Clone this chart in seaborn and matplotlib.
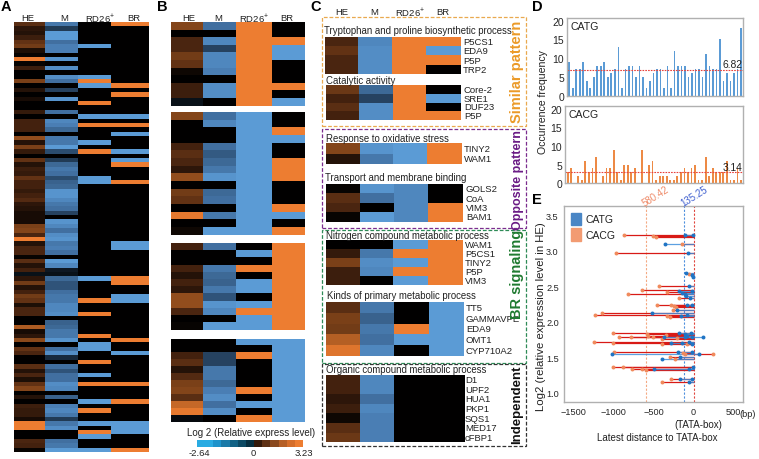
import numpy as np
import pandas as pd
import seaborn as sns
import matplotlib.pyplot as plt
from matplotlib.colors import LinearSegmentedColormap, ListedColormap
from matplotlib.patches import Rectangle, Patch

W, H = 759, 460
VMIN, VMAX = -2.64, 3.23
ORANGE = "#ed7d31"
BLUE = "#5b9bd5"

# panel A
a_he = [1.2, 0.6, 0.5, 0.8, 1.3, 1.5, 0.4, 0.1, 3.0, 0.1, 0.8, 0, 0, 1.6, 0, 0.5, 0, 0.3, 0, 0,
        0.7, 0, 0.9, 0.9, 0.9, 0, 1.9, 0.5, 1.6, 0.7, 0, 1.3, 0.5, 0.8, 0.7, 1.3, 0.9, 0.9, 0.7, 0.9,
        1.1, 0.6, 0.5, 0.3, 0.3, 0.3, 1.6, 1.7, 1.0, 3.0, 0.5, 1.0, 1.0, 0.1, 1.2, 0.5, 0.9, -0.2, 0.6, 1.5,
        0.5, 0.9, 1.5, 1.3, 0.4, 1.0, 1.0, 0, 0, 2.2, 0.3, 0.6, 1.8, 0, 1.3, 1.0, 0, 0, 1.2, 0.5,
        1.0, 0.4, 1.3, 1.7, 0, 0.5, 0, 0.8, 0.7, 0.7, 0.3, 3.0, 3.0, 0, 0, 1.0, 0.9, 0.1]
a_m = [-1.5, -0.7, -2, -2, -1.4, -1.6, -1.6, 0, -1.9, 0, -1.8, 0, -1.8, -1.4, 0, -0.8, 0, -1.9, 0, 0,
       -1.4, 0, -1.7, -1.6, -1.3, 0, -1.5, -1.5, -2, -0.9, 0, -0.7, -1.3, -1.5, -1.4, -0.9, -1.2, -1.3, -1.9, -1.9,
       -1.7, -1.5, -1.4, -0.8, 0, -1.9, -1.7, -1.4, -1.8, -1.9, -1.5, -1.6, -1.4, 0, -2, -1.7, -0.3, -0.2, -1.3, -1,
       -1, -1.4, -1.5, -1.5, -1.7, -1.7, -1.8, 0, -1.2, -1.3, -1.5, -1.5, -1.9, 0, -1.4, -1.8, -0.5, 0, -1.4, -1,
       -1.4, -1.4, -1.8, -1.7, 0, -1.2, 0, -1.6, -1.7, -1.5, -0.7, -1.5, -1.8, 0, 0, -1.4, -1.5, -2]
a_rd_up = [13, 18, 23, 29, 63, 66, 71, 77, 82, 88, 93]
a_rd_down = [5, 12, 14, 21, 27, 35, 36, 58, 73, 74, 80, 86, 91, 94, 97]
a_br_up = [0, 14, 16, 23, 32, 36, 58, 59, 72, 82, 86, 97]
a_br_down = [21, 25, 29, 31, 50, 51, 62, 63, 75, 91, 92, 93]

# panel B, four groups (HE, M, RD26+, BR)
b1 = [[1.7, 0, 1, 1, 1.5, 1.3, 0.2, 0, 0.8, 0.8, -0.2],
      [-1.4, 0, -1.7, -0.8, -1.7, -1.7, -1.6, 0, -1.8, -1.8, 0],
      [3] * 11,
      [0, 0, 3, -2, -2, 0, 0, 0, 3, 0, -2]]
b2 = [[1.7, 0, 0, 0, 0.9, 1.2, 1.0, 0.6, 1.9, 0, 1.5, 1.3, 0, 2.9, 0, 0.2],
      [-1.4, -1.7, 0, 0, -1.4, -1.1, -1.3, -1.5, -1.9, 0, -1.3, -1.4, 0, -1.5, 0, -2],
      [-2] * 16,
      [0, 0, 3, -2, 0, 0, 3, 3, 3, 0, 0, 0, 3, -2, 0, 3]]
b3 = [[0.9, 0, 0, 0.9, 0.5, 0.9, 0.6, 1.9, 1.9, 1, 0, 0.1],
      [-1.4, 0, 0, -1.5, -1.3, -1.2, -1.5, -1, -1.9, -1.7, 0, -2],
      [0, -2, 0, 3, 0, -2, -2, 0, -2, 3, -2, -2],
      [3] * 12]
b4 = [[0, 0, 0.9, 1.2, 0.5, 1.1, 1.6, 1.7, 1.2, 2.5, 2.9, -0.1],
      [0, 0, -0.8, -0.8, -1.5, -1.5, -1.3, -1.6, -1.8, -1.4, -1.8, 0],
      [-2, 0, 3, 0, 0, 0, 0, 3, 0, -2, 0, 3],
      [-2] * 12]

# panel C
c1a = [[1.0, 1.3, 1.0, 1.0], [-1.7, -1.8, -1.8, -1.8], [3, 3, 3, 3], [3, -2, 3, 0]]
c1b = [[1.4, 0.9, 1.2, 0.9], [-1.3, -0.8, -1.8, -1.8], [3, 3, 3, 3], [0, -2, 0, 3]]
c2a = [[1.7, 0.5], [-1.9, -1.5], [-2, -2], [3, 3]]
c2b = [[0.1, 1.2, 1.0, 0.1], [-1.9, -1.4, 0, -2], [-1.7] * 4, [0, 0, 3, 3]]
c3a = [[0, 0.7, 1.6, 0.8, 0.8], [0, -1.5, -1.8, -1.7, 0], [-2, 3, -2, 3, -2], [3] * 5]
c3b = [[1.2, 1.6, 1.5, 2.3, 2.8], [-1.5, -1.2, -1.5, -1.4, -1.7], [0, 0, 3, -2, 0], [-2] * 5]
c4 = [[0.9, 0.9, 0.6, 0.8, 0.2, 1.2, 1.4], [-1.7, -1.7, -1.4, -1.7, -1.6, -1.6, -1.6], [0] * 7, [0] * 7]
c1a_genes = ["P5CS1", "EDA9", "P5P", "TRP2"]
c1b_genes = ["Core-2", "SRE1", "DUF23", "P5P"]
c2a_genes = ["TINY2", "WAM1"]
c2b_genes = ["GOLS2", "CoA", "VIM3", "BAM1"]
c3a_genes = ["WAM1", "P5CS1", "TINY2", "P5P", "VIM3"]
c3b_genes = ["TT5", "GAMMAVPE", "EDA9", "OMT1", "CYP710A2"]
c4_genes = ["D1", "UPF2", "HUA1", "PKP1", "SQS1", "MED17", "cFBP1"]

# panel D
catg = [9, 2, 7, 7, 9, 4, 2, 5, 8, 8, 9, 5, 6, 7, 13, 2, 7, 8, 8, 5, 8, 5, 2, 4, 6,
        7, 7, 2, 8, 2, 12, 8, 8, 8, 5, 6, 7, 7, 5, 11, 8, 7, 7, 15, 4, 6, 4, 6, 7, 18]
cacg = [3, 4, 0, 2, 1, 6, 3, 4, 7, 0, 2, 4, 4, 9, 3, 1, 5, 5, 3, 4, 0, 9, 0, 5, 6,
        1, 2, 2, 2, 1, 1, 2, 3, 4, 3, 4, 5, 1, 1, 7, 2, 4, 3, 3, 3, 6, 1, 1, 4, 1]
catg_mean, cacg_mean = 6.82, 3.14

# panel E
catg_y = [3.22, 3.22, 3.09, 2.97, 2.68, 2.66, 2.63, 2.50, 2.44, 2.43, 2.40, 2.39, 2.36, 2.34, 2.24, 2.23,
          2.16, 2.12, 2.09, 2.08, 1.84, 1.83, 1.84, 1.80, 1.78, 1.78, 1.78, 1.78, 1.71, 1.70, 1.70, 1.69,
          1.57, 1.57, 1.54, 1.54, 1.51, 1.47, 1.36, 1.34, 1.34, 1.19, 1.19, 1.155]
catg_x = [-108, -5, -358, -75, -100, -25, -12, -54, -25, -183, -140, -108, -100, -46, -88, -25,
          -208, -517, -79, -154, -183, -108, -37, -88, -367, -108, -25, 121, -54, -287, -150, -25,
          -200, -25, -1017, 67, -175, -392, -4, -496, -54, -167, -25, -54]
cacg_y = [3.22, 3.21, 3.20, 3.09, 2.97, 2.67, 2.50, 2.45, 2.42, 2.39, 2.34, 2.24, 2.23, 2.22, 2.21, 2.16, 2.12,
          2.09, 2.08, 2.07, 1.84, 1.83, 1.82, 1.80, 1.78, 1.78, 1.78, 1.77, 1.76, 1.71, 1.70, 1.69, 1.68, 1.57,
          1.56, 1.54, 1.54, 1.51, 1.47, 1.36, 1.36, 1.34, 1.33, 1.32, 1.19, 1.155]
cacg_x = [-875, -504, -470, -150, -970, -54, -430, -650, -330, -825, -183, -462, -283, -245, -220, -262, -1142,
          -1237, -330, -300, -1004, -583, -350, -567, -933, -783, -504, -212, -400, -1250, -1004, -396, -88, -996,
          -137, 246, -108, -296, -233, -1004, -879, -771, -650, -600, -283, -400]
lines_e = [-590, -117, 0]

# colour bar blocks
cbar_vals = [-2.64, -2.2, -1.8, -1.3, -0.9, -0.45, 0, 0.55, 1.1, 1.65, 2.2, 2.75, 3.23]
cbar_cols = ["#29abe2", "#1d93cb", "#1a7aa8", "#126285", "#0c4a64", "#062f40", "#000000",
             "#33190a", "#5e3014", "#8a491e", "#b55f26", "#d56e2b", "#ed7d31"]


def norm(v):
    return (v - VMIN) / (VMAX - VMIN)


cmap = LinearSegmentedColormap.from_list("expr", [
    (0.0, BLUE), (norm(-2.0), BLUE), (norm(-1.6), "#4a7eb4"), (norm(-1.0), "#2f5378"),
    (norm(0), "#000000"), (norm(1.0), "#4a2510"), (norm(2.0), "#9a521e"), (norm(3.0), ORANGE), (1.0, ORANGE)])

sns.set_theme(style="white")
plt.rcParams["font.family"] = ["Liberation Sans", "DejaVu Sans"]
plt.rcParams["mathtext.default"] = "regular"
plt.rcParams["text.color"] = "#222222"

fig = plt.figure(figsize=(W / 100, H / 100), dpi=100)


def pix_axes(x0, y0, x1, y1):
    return fig.add_axes([x0 / W, 1 - y1 / H, (x1 - x0) / W, (y1 - y0) / H])


def ftext(x, y, s, **kw):
    kw.setdefault("fontsize", 6.9)
    kw.setdefault("ha", "center")
    kw.setdefault("va", "center")
    fig.text(x / W, 1 - y / H, s, **kw)


def heat(cols, x0, y0, x1, y1, widths):
    # one narrow axes per column, the columns of the figure are uneven
    arr = np.array(cols, dtype=float).T
    edges = np.concatenate([[x0], x0 + np.cumsum(widths) / np.sum(widths) * (x1 - x0)])
    for i in range(arr.shape[1]):
        cax = pix_axes(edges[i], y0, edges[i + 1], y1)
        sns.heatmap(arr[:, [i]], ax=cax, cmap=cmap, vmin=VMIN, vmax=VMAX, cbar=False,
                    xticklabels=False, yticklabels=False)


# panel A
a_rd = [0.0] * 98
a_br = [0.0] * 98
for i in a_rd_up:
    a_rd[i] = 3.0
for i in a_rd_down:
    a_rd[i] = -2.0
for i in a_br_up:
    a_br[i] = 3.0
for i in a_br_down:
    a_br[i] = -2.0
heat([a_he, a_m, a_rd, a_br], 14, 23, 149, 453, widths=[31, 33, 33, 38])

# panel B
bw = [33, 33, 36, 33]
heat(b1, 170.5, 23, 305, 106.5, widths=bw)
heat(b2, 170.5, 113, 305, 235.5, widths=bw)
heat(b3, 170.5, 244, 305, 330.5, widths=bw)
heat(b4, 170.5, 339.5, 305, 422.5, widths=bw)

# colour bar
cb_ax = pix_axes(197, 440.7, 303, 447.7)
sns.heatmap(np.array([cbar_vals]), ax=cb_ax, cmap=ListedColormap(cbar_cols), cbar=False,
            xticklabels=False, yticklabels=False)
ftext(251, 433, "Log 2 (Relative express level)", fontsize=7)
ftext(199, 454, "-2.64", fontsize=6.8)
ftext(253, 454, "0", fontsize=6.8)
ftext(304, 454, "3.23", fontsize=6.8)

# panel C
cw = [25, 25, 25.5, 26]
for cols, genes, box, lab_x in [
    (c1a, c1a_genes, (325, 37.7, 461, 75), 463),
    (c1b, c1b_genes, (326.3, 86, 460.7, 121), 464),
    (c2a, c2a_genes, (326.3, 144, 462, 165), 464),
    (c2b, c2b_genes, (326.3, 185, 463.3, 222.7), 466),
    (c3a, c3a_genes, (326.3, 240.7, 462.7, 286), 465),
    (c3b, c3b_genes, (326.3, 302.7, 464, 357.3), 466),
    (c4, c4_genes, (326.3, 375.7, 464.7, 443.3), 465),
]:
    heat(cols, *box, widths=cw)
    y0, y1 = box[1], box[3]
    step = (y1 - y0) / len(genes)
    for k, g in enumerate(genes):
        ftext(lab_x, y0 + (k + 0.5) * step, g, ha="left", fontsize=6.8)

ftext(324, 30.5, "Tryptophan and proline biosynthetic process", ha="left")
ftext(326, 81, "Catalytic activity", ha="left")
ftext(326, 139, "Response to oxidative stress", ha="left")
ftext(325, 178, "Transport and membrane binding", ha="left")
ftext(326, 236, "Nitrogen compound metabolic process", ha="left")
ftext(327, 296, "Kinds of primary metabolic process", ha="left")
ftext(326, 370, "Organic compound metabolic process", ha="left")

for x0, y0, x1, y1, col in [(321.7, 18.3, 525.7, 126.7, "#e9a94f"),
                            (321.7, 130, 525.7, 229, "#7b2d8e"),
                            (321.7, 231, 525.7, 364, "#2e8b57"),
                            (321.7, 364.5, 525.7, 446.7, "#333333")]:
    fig.add_artist(Rectangle((x0 / W, 1 - y1 / H), (x1 - x0) / W, (y1 - y0) / H, transform=fig.transFigure,
                             fill=False, ec=col, lw=0.9, ls=(0, (3, 1.5))))

ftext(517.5, 72, "Similar pattern", rotation=90, color="#eb9a28", fontsize=10.5, fontweight="bold")
ftext(517.5, 180, "Opposite pattern", rotation=90, color="#6a1b85", fontsize=9, fontweight="bold")
ftext(517.5, 274, "BR signaling", rotation=90, color="#1f7a30", fontsize=10.5, fontweight="bold")
ftext(517.5, 405, "Independent", rotation=90, color="#111111", fontsize=9.5, fontweight="bold")

# column headers
for xs in ([28, 64, 100, 134], [189, 218, 254, 287], [342, 374, 410, 443]):
    for x, s in zip(xs, ["HE", "M", "RD26$^{+}$", "BR"]):
        ftext(x, 18.5 if xs[0] < 300 else 12.5, s, fontsize=6.8)

# panel letters
for x, y, s in [(5.5, 7, "A"), (162.5, 7, "B"), (316, 7, "C"), (537, 7, "D"), (537, 200, "E")]:
    ftext(x, y, s, fontsize=10.5, fontweight="bold", color="black")


# panel D
def bars(vals, mean, color, label, box, val_xy):
    ax = pix_axes(*box)
    df = pd.DataFrame({"pos": range(len(vals)), "count": vals})
    sns.barplot(data=df, x="pos", y="count", color=color, saturation=1, width=0.5,
                edgecolor="none", linewidth=0, ax=ax)
    ax.axhline(mean, color="#e8423c", lw=0.8, ls=(0, (1.5, 1)))
    ax.set_ylim(0, 20.6)
    ax.set_xlim(-0.75, len(vals) - 0.35)
    ax.set_xticks([])
    ax.set_yticks([0, 5, 10, 15, 20])
    ax.tick_params(axis="y", labelsize=7.5, pad=2, length=0)
    ax.set_xlabel("")
    ax.set_ylabel("")
    for s in ax.spines.values():
        s.set_color("#b0b0b0")
        s.set_linewidth(1)
    ax.text(0.02, 0.9, label, transform=ax.transAxes, fontsize=7.6, va="center")
    ax.text(val_xy[0], val_xy[1], f"{mean:.2f}", fontsize=7.4, ha="center", va="center")


bars(catg, catg_mean, "#5b9bd5", "CATG", (566.7, 19.3, 743.3, 96.7), (46.5, 8.4))
bars(cacg, cacg_mean, "#ed8a45", "CACG", (565, 107.3, 743.3, 184.3), (46.5, 4.3))
ftext(543, 102, "Occurrence frequency", rotation=90, fontsize=7.6)

# panel E
ax = pix_axes(564.3, 207.3, 743.3, 402.7)
ce = pd.DataFrame({"dist": cacg_x, "level": cacg_y})
be = pd.DataFrame({"dist": catg_x, "level": catg_y})
ax.hlines(ce["level"], ce["dist"], 0, color="#d81a16", lw=0.9)
ax.hlines(be["level"], be["dist"], 0, color="#3f8fdc", lw=0.9, alpha=0.85)
sns.scatterplot(data=ce, x="dist", y="level", color="#f08a5c", s=8, linewidth=0, ax=ax, zorder=3)
sns.scatterplot(data=be, x="dist", y="level", color="#1f74c4", s=8, linewidth=0, ax=ax, zorder=4)
for xv, col in zip(lines_e, ["#f4a982", "#4d8fdd", "#e0453c"]):
    ax.axvline(xv, color=col, lw=0.8, ls=(0, (2, 1.5)), zorder=1)
ax.set_xlim(-1617, 621)
ax.set_ylim(0.873, 3.627)
ax.set_xticks([-1500, -1000, -500, 0, 500])
ax.set_yticks([1.0, 1.5, 2.0, 2.5, 3.0, 3.5])
ax.set_yticklabels(["1.0", "1.5", "2.0", "2.5", "3.0", "3.5"])
ax.tick_params(labelsize=6.6, pad=2, length=2, width=0.6, color="#888888")
ax.set_xlabel("")
ax.set_ylabel("")
for s in ax.spines.values():
    s.set_color("#b0b0b0")
    s.set_linewidth(1)
ax.legend(handles=[Patch(color="#4a86c5", label="CATG"), Patch(color="#f29b72", label="CACG")],
          loc="upper left", frameon=False, fontsize=7.5, handlelength=1.0, handleheight=1.5,
          handletextpad=0.4, labelspacing=0.25, borderaxespad=0.2)
ftext(748, 415, "(bp)", fontsize=6.6)
ftext(698, 425.5, "(TATA-box)", fontsize=7)
ftext(657, 438, "Latest distance to TATA-box", fontsize=7)
ftext(541, 317, "Log2 (relative expression level in HE)", rotation=90, fontsize=8.2)
ftext(655, 197, "580.42", rotation=32, color="#ee8a68", fontsize=7)
ftext(694, 197, "135.25", rotation=32, color="#4060d0", fontsize=7)

fig.savefig("out.png", dpi=100)
